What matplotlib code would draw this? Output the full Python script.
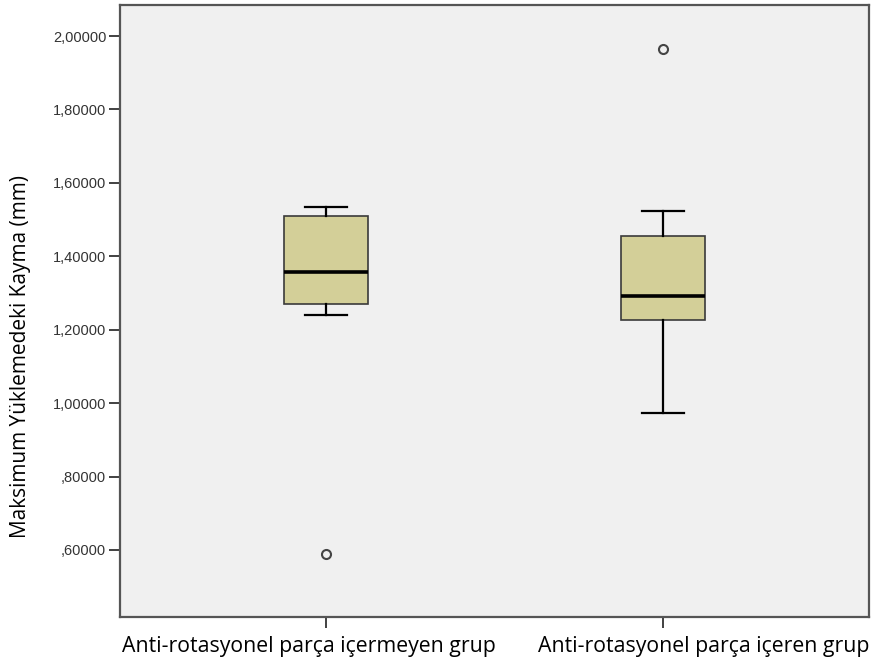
import matplotlib
matplotlib.use("Agg")
import matplotlib.pyplot as plt

# grup isimleri ve kutu istatistikleri
groups = ['Anti-rotasyonel parça içermeyen grup', 'Anti-rotasyonel parça içeren grup']
whislo = [1.240, 0.973]
q1 = [1.270, 1.226]
med = [1.357, 1.292]
q3 = [1.510, 1.455]
whishi = [1.534, 1.523]
fliers = [[0.589], [1.965]]

yticks = [0.6, 0.8, 1.0, 1.2, 1.4, 1.6, 1.8, 2.0]


def fmt(v):
    s = f'{v:.5f}'.replace('.', ',')
    if s.startswith('0'):
        s = s[1:]
    return s


def main():
    fig = plt.figure(figsize=(8.8, 6.68), dpi=100)
    ax = fig.add_axes([0.1364, 0.0763, 0.8511, 0.9162])
    ax.set_facecolor('#f0f0f0')

    stats = []
    for i in range(len(groups)):
        stats.append({'label': groups[i], 'whislo': whislo[i], 'q1': q1[i], 'med': med[i],
                      'q3': q3[i], 'whishi': whishi[i], 'fliers': fliers[i]})

    ax.bxp(stats, positions=[1, 2], widths=0.25, patch_artist=True, showfliers=True,
           boxprops=dict(facecolor='#d3cf98', edgecolor='#3a3a3a', linewidth=1.2),
           medianprops=dict(color='black', linewidth=2.6),
           whiskerprops=dict(color='black', linewidth=1.6),
           capprops=dict(color='black', linewidth=1.6),
           capwidths=0.125,
           flierprops=dict(marker='o', markersize=6.5, markerfacecolor='none',
                           markeredgecolor='#444444', markeredgewidth=1.5))

    ax.set_xlim(0.389, 2.611)
    ax.set_ylim(0.4174, 2.0845)
    ax.set_yticks(yticks)
    ax.set_yticklabels([fmt(v) for v in yticks], fontsize=10.5, family='Liberation Sans', color='#333333')
    ax.set_xticks([1, 2])
    ax.set_xticklabels([])

    # grup etiketleri, SPSS'teki gibi biraz kaymis
    shifts = [-17, 41]
    for i in range(len(groups)):
        ax.annotate(groups[i], xy=(i + 1, 0), xycoords=('data', 'axes fraction'),
                    xytext=(shifts[i] * 0.72, -14), textcoords='offset points',
                    ha='center', va='top', fontsize=15.3, family='Open Sans', color='black')

    ax.tick_params(axis='y', direction='out', length=8, width=1.3, color='#333333', pad=2)
    ax.tick_params(axis='x', direction='out', length=8, width=1.3, color='#333333')

    ax.set_ylabel('Maksimum Yüklemedeki Kayma (mm)', fontsize=15, family='Open Sans')
    ax.yaxis.set_label_coords(-0.119, 0.4265)

    for sp in ax.spines.values():
        sp.set_color('#555555')
        sp.set_linewidth(1.6)

    fig.savefig('out.png', dpi=100)


if __name__ == '__main__':
    main()
